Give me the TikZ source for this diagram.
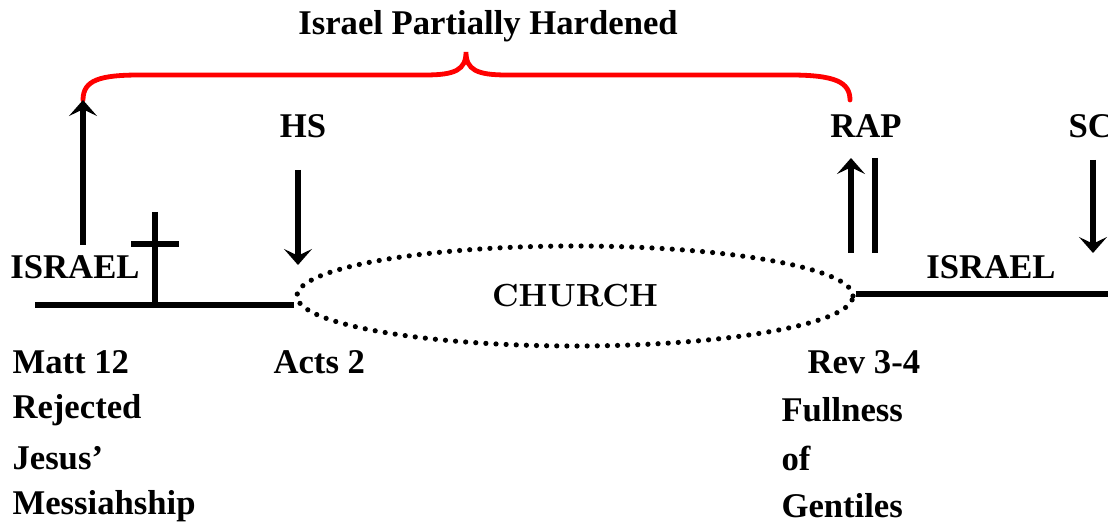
\documentclass[tikz,border=0pt]{standalone}
\usepackage{fontspec}
\setmainfont{Liberation Serif}
\newfontfamily\churchfont{lmroman10-bold}[Extension=.otf]
\usetikzlibrary{arrows.meta,shapes.geometric}

\begin{document}
\begin{tikzpicture}[x=0.75pt,y=-0.75pt,line width=3.8pt,>={Stealth[length=12pt,width=21pt,inset=5pt]}]
    \tikzstyle{label}=[inner sep=0pt,font=\fontsize{26}{30}\selectfont\bfseries]
    \tikzstyle{note}=[label,anchor=west];
    \tikzstyle{brace}=[draw=red,line width=3.6pt,line cap=round];
    \tikzstyle{church}=[ellipse,draw,line width=3.9pt,line cap=round,dash pattern=on 0pt off 7.6pt,minimum width=417pt,minimum height=75pt,inner sep=0pt];
    \useasboundingbox (0,0) rectangle (1108,524);

    % Title and brace
    \node[label] (title) at (488,26) {Israel Partially Hardened};
    \coordinate (B-l) at (83,100);
    \coordinate (B-r) at (850,100);
    \draw[brace] (B-l) .. controls (83,80) and (100,75) .. (140,75) -- (425,75)
        .. controls (455,75) and (466,70) .. (466,52)
        .. controls (466,70) and (477,75) .. (507,75) -- (790,75)
        .. controls (835,75) and (850,82) .. (B-r);

    % Labels
    \node[label] (HS) at (303,126) {HS};
    \node[label] (RAP) at (866,126) {RAP};
    \node[label,anchor=west] (SC) at (1066,126) {SC};
    \node[label] (I-1) at (75,267) {ISRAEL};
    \node[label] (I-2) at (991,267) {ISRAEL};
    \node[church] (C) at (575,296) {\churchfont\fontsize{24}{28}\selectfont CHURCH};

    % Timeline
    \coordinate (T-1) at (35,305);
    \coordinate (T-2) at (1108,294);
    \draw (T-1) -- (C.west |- T-1);
    \draw (C.east |- T-2) -- (T-2);

    % Cross
    \draw (155,212) -- (155,305);
    \draw (131,244) -- (179,244);

    % Arrows
    \coordinate (A-1) at (83,245);
    \coordinate (A-2) at (298,170);
    \coordinate (A-3) at (298,265);
    \coordinate (A-4) at (851,253);
    \coordinate (A-5) at (851,158);
    \coordinate (A-6) at (875,158);
    \coordinate (A-7) at (875,253);
    \coordinate (A-8) at (1093,160);
    \coordinate (A-9) at (1093,253);
    \draw[->] (A-1) -- (B-l);
    \draw[->] (A-2) -- (A-3);
    \draw[->] (A-4) -- (A-5);
    \draw (A-6) -- (A-7);
    \draw[->] (A-8) -- (A-9);

    % Scripture notes
    \node[note] (N-1) at (10,362) {Matt 12};
    \node[note] (N-2) at (10,410) {Rejected};
    \node[note] (N-3) at (10,458) {Jesus'};
    \node[note] (N-4) at (10,506) {Messiahship};
    \node[note] (N-5) at (271,362) {Acts 2};
    \node[note] (N-6) at (805,362) {Rev 3-4};
    \node[note] (N-7) at (779,410) {Fullness};
    \node[note] (N-8) at (779,458) {of};
    \node[note] (N-9) at (779,506) {Gentiles};
\end{tikzpicture}
\end{document}
